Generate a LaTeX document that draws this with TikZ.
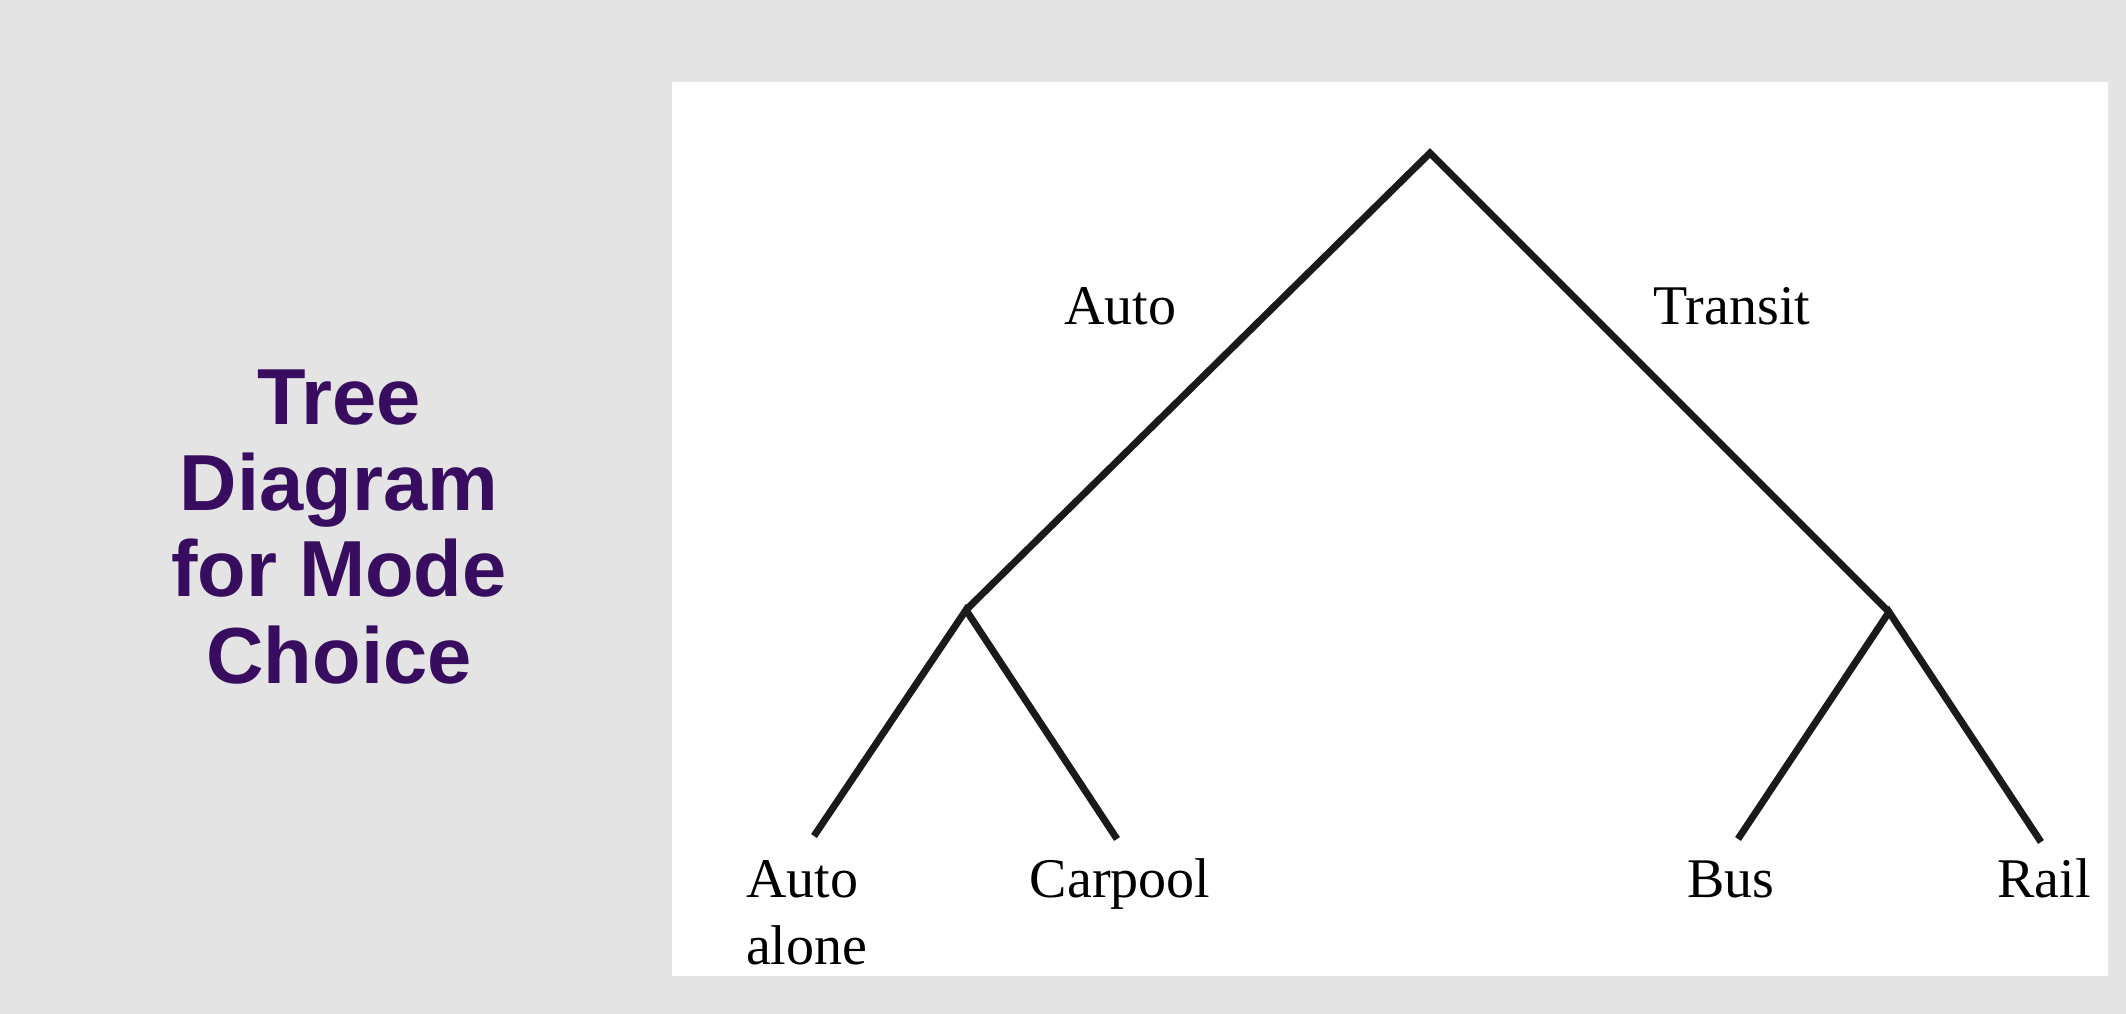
\documentclass[tikz,border=0pt]{standalone}
\usepackage{fontspec}
\setmainfont{Liberation Serif}
\newfontfamily\titlefont{Liberation Sans}
\definecolor{bggray}{HTML}{E4E4E4}
\definecolor{titlepurple}{HTML}{380C5E}
\definecolor{inkblack}{HTML}{1A1A1A}
\begin{document}
\begin{tikzpicture}[x=1pt,y=-1pt,
  branch/.style={draw=inkblack,line width=7pt,line join=miter},
  lbl/.style={inner sep=0pt,outer sep=0pt,text=black,font=\fontsize{56}{67.6}\selectfont},
  titletext/.style={inner sep=0pt,outer sep=0pt,text=titlepurple,font=\titlefont\bfseries\fontsize{79.5}{86.4}\selectfont}]
  \useasboundingbox (0,0) rectangle (2126,1014);
  \fill[bggray] (0,0) rectangle (2126,1014);
  \fill[white] (672,82) rectangle (2108,976);
  % title
  \node[titletext,anchor=base] (title) at (339,424)
    {\begin{tabular}[t]{@{}c@{}}Tree\\Diagram\\for Mode\\Choice\end{tabular}};
  % tree points
  \coordinate (root) at (1430,153);
  \coordinate (L) at (966,610);
  \coordinate (R) at (1889,612);
  \coordinate (aa) at (814,836);
  \coordinate (cp) at (1117,839);
  \coordinate (bus) at (1738,839);
  \coordinate (rail) at (2041,842);
  \draw[branch] (L) -- (root) -- (R);
  \draw[branch] (aa) -- (L) -- (cp);
  \draw[branch] (bus) -- (R) -- (rail);
  % labels
  \node[lbl,anchor=base] (lauto) at (1120,324) {Auto};
  \node[lbl,anchor=base] (ltransit) at (1732,324) {Transit};
  \node[lbl,anchor=base west] (lalone) at (746,897)
    {\begin{tabular}[t]{@{}l@{}}Auto\\alone\end{tabular}};
  \node[lbl,anchor=base] (lcarpool) at (1120,897) {Carpool};
  \node[lbl,anchor=base] (lbus) at (1731,897) {Bus};
  \node[lbl,anchor=base] (lrail) at (2044,897) {Rail};
\end{tikzpicture}
\end{document}
